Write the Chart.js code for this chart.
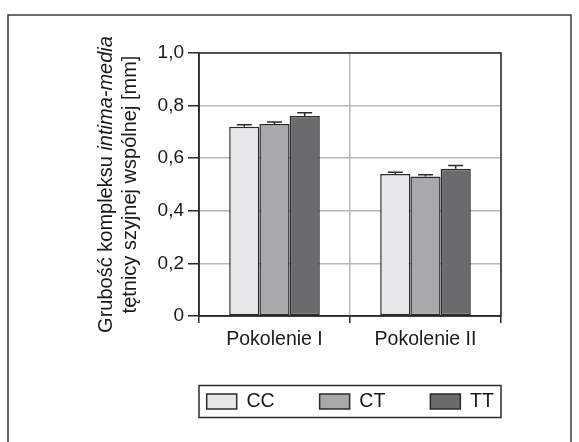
<!DOCTYPE html>
<html>
<head>
<meta charset="utf-8">
<script src="https://cdn.jsdelivr.net/npm/chart.js@4"></script>
<style>
html,body{margin:0;padding:0;background:#fff;}
#wrap{position:relative;width:579px;height:442px;}
</style>
</head>
<body>
<div id="wrap"><canvas id="c" width="579" height="442"></canvas></div>
<script>
const categories = ['Pokolenie I', 'Pokolenie II'];
const seriesNames = ['CC', 'CT', 'TT'];
const valuesCC = [0.72, 0.54];
const valuesCT = [0.73, 0.53];
const valuesTT = [0.76, 0.56];
const errorsCC = [0.007, 0.007];
const errorsCT = [0.008, 0.007];
const errorsTT = [0.013, 0.012];
const yTickLabels = ['0', '0,2', '0,4', '0,6', '0,8', '1,0'];
const axisTitleLine1 = [['Grubość kompleksu ', false], ['intima-media', true]];
const axisTitleLine2 = [['tętnicy szyjnej wspólnej [mm]', false]];

const FONT = "'Liberation Sans', Arial, sans-serif";
const DARK = '#2b2b2b';
const TEXT = '#1a1a1a';
const colors = ['#e6e7e8', '#a8a9ac', '#6a6b6f'];
const errors = [errorsCC, errorsCT, errorsTT];

const decorPlugin = {
  id: 'decor',
  afterLayout(chart) {
    const lg = chart.legend;
    if (lg) { lg.left = 153; lg.right = 547.65; lg.width = lg.right - lg.left; }
    const xs = chart.scales.x;
    xs.bottom = 380; xs.height = xs.bottom - xs.top;
  },
  beforeDraw(chart) {
    const ctx = chart.ctx;
    ctx.save();
    ctx.fillStyle = '#fff';
    ctx.fillRect(0, 0, chart.width, chart.height);
    ctx.restore();
  },
  afterDatasetsDraw(chart) {
    const ctx = chart.ctx, ys = chart.scales.y;
    ctx.save();
    ctx.strokeStyle = DARK;
    ctx.lineWidth = 1.5;
    chart.data.datasets.forEach((ds, di) => {
      const meta = chart.getDatasetMeta(di);
      meta.data.forEach((bar, i) => {
        const v = ds.data[i], e = errors[di][i];
        const yTop = ys.getPixelForValue(v + e);
        const yBar = ys.getPixelForValue(v);
        ctx.beginPath();
        ctx.moveTo(bar.x, yBar);
        ctx.lineTo(bar.x, yTop);
        ctx.moveTo(bar.x - 7.5, yTop);
        ctx.lineTo(bar.x + 7.5, yTop);
        ctx.stroke();
      });
    });
    ctx.restore();
  },
  afterDraw(chart) {
    const ctx = chart.ctx, ca = chart.chartArea, lg = chart.legend;
    ctx.save();
    ctx.strokeStyle = DARK;
    ctx.lineWidth = 1.5;
    ctx.strokeRect(ca.left, ca.top, ca.right - ca.left, ca.bottom - ca.top);
    const fTop = lg.bottom - 35.75, fBot = lg.bottom - 3.75;
    ctx.strokeRect(ca.left, fTop, ca.right - ca.left, fBot - fTop);
    ctx.strokeStyle = '#3a3a3a';
    ctx.lineWidth = 1.5;
    ctx.strokeRect(8, 15, 563, 460);
    const cy = (ca.top + ca.bottom) / 2;
    const drawLine = (parts, x) => {
      ctx.save();
      ctx.translate(x, cy);
      ctx.rotate(-Math.PI / 2);
      ctx.fillStyle = TEXT;
      ctx.textBaseline = 'alphabetic';
      ctx.textAlign = 'left';
      let total = 0;
      parts.forEach(([t, it]) => { ctx.font = (it ? 'italic ' : '') + '20px ' + FONT; total += ctx.measureText(t).width; });
      let xx = -total / 2;
      parts.forEach(([t, it]) => { ctx.font = (it ? 'italic ' : '') + '20px ' + FONT; ctx.fillText(t, xx, 0); xx += ctx.measureText(t).width; });
      ctx.restore();
    };
    drawLine(axisTitleLine1, 112);
    drawLine(axisTitleLine2, 136);
    ctx.restore();
  }
};

new Chart(document.getElementById('c'), {
  type: 'bar',
  data: {
    labels: categories,
    datasets: [
      { label: seriesNames[0], data: valuesCC, backgroundColor: colors[0] },
      { label: seriesNames[1], data: valuesCT, backgroundColor: colors[1] },
      { label: seriesNames[2], data: valuesTT, backgroundColor: colors[2] }
    ].map(d => Object.assign(d, { borderColor: DARK, borderWidth: 1.5, borderSkipped: false, categoryPercentage: 0.6, barPercentage: 1.0 }))
  },
  options: {
    responsive: false,
    animation: false,
    devicePixelRatio: 1,
    layout: { padding: { left: 0, right: 78, top: 53, bottom: 20.75 } },
    plugins: {
      tooltip: { enabled: false },
      legend: {
        position: 'bottom',
        labels: { boxWidth: 30, boxHeight: 15, padding: 45, color: TEXT, font: { family: FONT, size: 19.5 } }
      }
    },
    scales: {
      x: {
        offset: true,
        grid: { offset: true, color: '#b8b8b8', lineWidth: 1.5, tickColor: DARK, tickLength: 7 },
        border: { color: DARK, width: 1.5 },
        ticks: { color: TEXT, padding: 5, font: { family: FONT, size: 19.5 } },
        afterFit(s) { s.height = 30.75; }
      },
      y: {
        min: 0, max: 1,
        grid: { color: '#b8b8b8', lineWidth: 1.5, tickColor: DARK, tickLength: 11 },
        border: { color: DARK, width: 1.5 },
        ticks: { stepSize: 0.2, color: TEXT, padding: 4, font: { family: FONT, size: 19 },
          callback: (v, i) => yTickLabels[i] },
        afterFit(s) { s.width = 199; }
      }
    }
  },
  plugins: [decorPlugin]
});
</script>
</body>
</html>
